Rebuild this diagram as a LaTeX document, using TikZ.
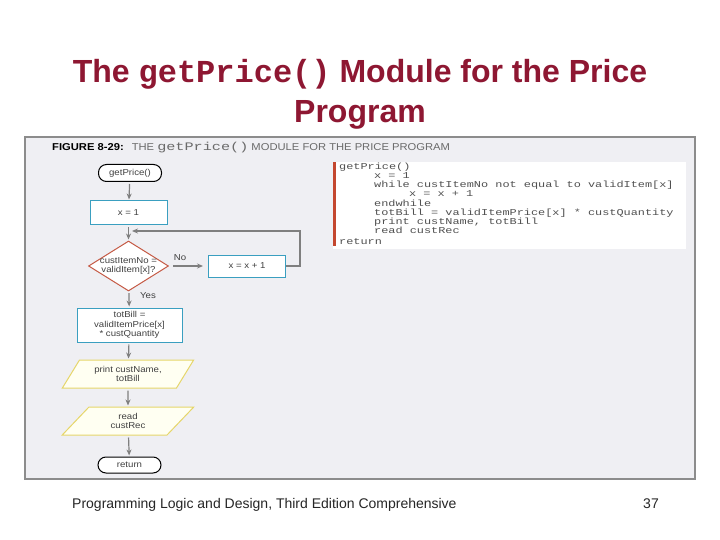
\documentclass[tikz,border=0pt]{standalone}
\usepackage{fontspec}
\setmainfont{Liberation Sans}
\setmonofont{Liberation Mono}
\newfontfamily\codefont[FakeStretch=1.32]{Liberation Mono}
\newfontfamily\headfamily[FakeStretch=1.12]{Liberation Sans}
\usepackage{tikz}
\usetikzlibrary{shapes.geometric,positioning,arrows.meta}
\definecolor{titlered}{HTML}{8E1732}
\definecolor{figbg}{HTML}{EFEFF3}
\definecolor{figframe}{HTML}{8C8C8C}
\definecolor{procblue}{HTML}{3A9FC0}
\definecolor{decred}{HTML}{C55A45}
\definecolor{ioyellow}{HTML}{E6D66A}
\definecolor{iofill}{HTML}{FFFFF2}
\definecolor{arrowgray}{HTML}{7F7F7F}
\definecolor{codebar}{HTML}{C4472F}
\definecolor{codegray}{HTML}{505050}
\definecolor{headgray}{HTML}{6A6A6A}

\tikzset{
  chartfont/.style={font=\headfamily\fontsize{8.6}{9.5}\selectfont, text=black!75},
  terminal/.style={chartfont, draw=black, line width=1pt, fill=white, rounded corners=8pt,
    minimum width=63pt, minimum height=17pt, inner sep=1pt},
  procbox/.style={chartfont, draw=procblue, line width=1pt, fill=white,
    minimum width=77pt, align=center, inner sep=1pt},
  decision/.style={chartfont, diamond, draw=decred, line width=1pt, fill=white, aspect=1.6,
    minimum width=80pt, minimum height=50pt, inner xsep=-3pt, inner ysep=-2pt, align=center},
  iobox/.style={chartfont, trapezium, trapezium left angle=53, trapezium right angle=127,
    trapezium stretches=true, draw=ioyellow, line width=1pt, fill=iofill,
    minimum width=132pt, minimum height=28pt, align=center, inner sep=0pt},
  flow/.style={-{Stealth[length=6pt,width=5pt]}, draw=arrowgray, line width=1.2pt, shorten <=2pt, shorten >=1pt},
}

\begin{document}
\begin{tikzpicture}[x=1pt, y=-1pt]
    \useasboundingbox (0,0) rectangle (720,540);
    \fill[white] (0,0) rectangle (720,540);

    % Slide title
    \node[anchor=base, text=titlered, font=\fontsize{32}{36}\selectfont\bfseries] (title1) at (360,83)
        {The {\ttfamily getPrice()} Module for the Price};
    \node[anchor=base, text=titlered, font=\fontsize{32}{36}\selectfont\bfseries] (title2) at (360,123) {Program};

    % Figure panel
    \draw[fill=figbg, draw=figframe, line width=1.5pt] (25,137) rectangle (695,479);
    \node[anchor=base west, inner sep=0pt, font=\headfamily\fontsize{10}{12}\selectfont] (fighead) at (52,150.5)
        {{\bfseries FIGURE 8-29:}\hspace{8pt}{\color{headgray}THE {\codefont\fontsize{11.5}{12}\selectfont getPrice()} MODULE FOR THE PRICE PROGRAM}};

    % Pseudocode listing
    \fill[white] (333,162) rectangle (686,249);
    \fill[codebar] (333,162) rectangle (336,246);
    \node[anchor=north west, inner sep=0pt, align=left, text=codegray,
          font=\codefont\fontsize{9}{9.2}\selectfont] (code) at (339,162.5)
        {getPrice()\\
         \hspace*{35pt}x = 1\\
         \hspace*{35pt}while custItemNo not equal to validItem[x]\\
         \hspace*{70pt}x = x + 1\\
         \hspace*{35pt}endwhile\\
         \hspace*{35pt}totBill = validItemPrice[x] * custQuantity\\
         \hspace*{35pt}print custName, totBill\\
         \hspace*{35pt}read custRec\\[1.5pt]
         return};

    % Flowchart
    \node[terminal] (start) at (130,173) {getPrice()};
    \node[procbox, minimum height=24pt] (init) at (128.5,213) {x = 1};
    \node[decision] (check) at (128.5,266) {custItemNo =\\validItem[x]?};
    \node[procbox, minimum height=22pt] (incr) at (247,266) {x = x + 1};
    \node[procbox, minimum width=105pt, minimum height=34pt] (calc) at (129.5,325)
        {totBill =\\validItemPrice[x]\\* custQuantity};
    \node[iobox] (show) at (128,374) {print custName,\\totBill};
    \node[iobox] (readrec) at (128,421) {read\\custRec};
    \node[terminal, minimum height=16pt] (finish) at (129.5,465) {return};

    \node[chartfont] (nolbl) at (180,258) {No};
    \node[chartfont] (yeslbl) at (148,296) {Yes};
    \coordinate (loopin) at (132,231);

    \draw[flow] (start) -- (init);
    \draw[flow] (init) -- (check);
    \draw[flow, shorten <=4pt, shorten >=5pt] (check) -- (incr);
    \draw[flow, shorten <=0pt, shorten >=0pt] (incr.east) -- ++(14,0) |- (loopin);
    \draw[flow] (check) -- (calc);
    \draw[flow] (calc) -- (show);
    \draw[flow] (show) -- (readrec);
    \draw[flow] (readrec) -- (finish);

    % Footer
    \node[anchor=base west, inner sep=0pt, font=\fontsize{14}{16}\selectfont, text=black!85] (footer) at (72,508)
        {Programming Logic and Design, Third Edition Comprehensive};
    \node[anchor=base east, inner sep=0pt, font=\fontsize{14}{16}\selectfont, text=black!85] (pagenum) at (659,508) {37};
\end{tikzpicture}
\end{document}
